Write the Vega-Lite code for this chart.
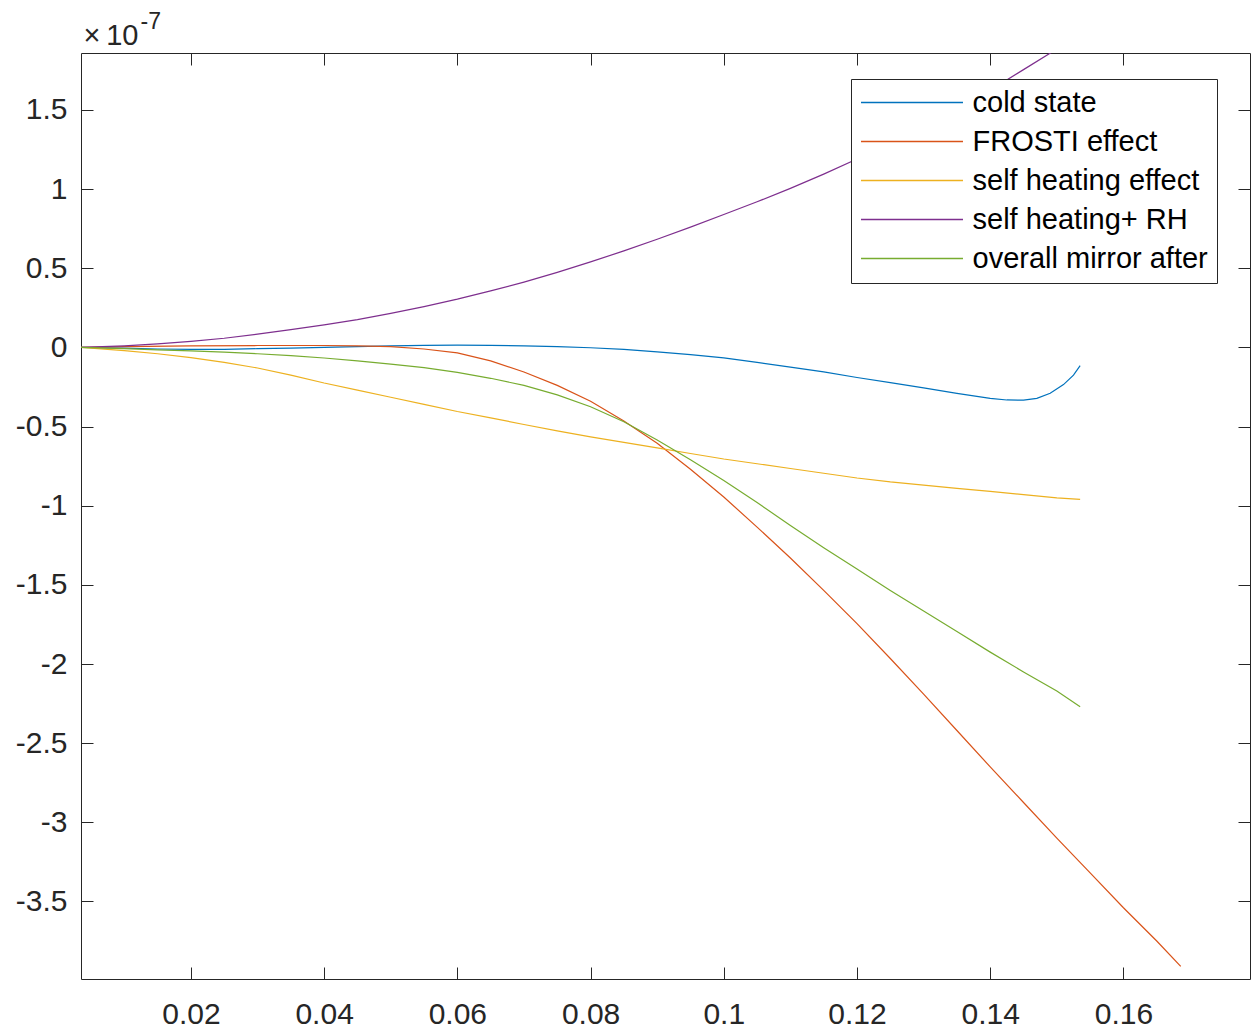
{
  "$schema": "https://vega.github.io/schema/vega-lite/v6.json",
  "autosize": "none",
  "width": 1169,
  "height": 926,
  "padding": {"left": 81, "top": 53, "right": 2, "bottom": 55},
  "background": "white",
  "config": {"view": {"stroke": null}, "font": "Liberation Sans"},
  "datasets": {
    "curves": [
      {"series": "cold state", "x": 0.0035, "y": 0},
      {"series": "cold state", "x": 0.01, "y": -0.005},
      {"series": "cold state", "x": 0.015, "y": -0.01},
      {"series": "cold state", "x": 0.02, "y": -0.012},
      {"series": "cold state", "x": 0.025, "y": -0.012},
      {"series": "cold state", "x": 0.03, "y": -0.008},
      {"series": "cold state", "x": 0.035, "y": -0.004},
      {"series": "cold state", "x": 0.04, "y": 0.0},
      {"series": "cold state", "x": 0.045, "y": 0.005},
      {"series": "cold state", "x": 0.05, "y": 0.01},
      {"series": "cold state", "x": 0.055, "y": 0.013},
      {"series": "cold state", "x": 0.06, "y": 0.014},
      {"series": "cold state", "x": 0.065, "y": 0.013},
      {"series": "cold state", "x": 0.07, "y": 0.01},
      {"series": "cold state", "x": 0.075, "y": 0.005},
      {"series": "cold state", "x": 0.08, "y": -0.002},
      {"series": "cold state", "x": 0.085, "y": -0.012},
      {"series": "cold state", "x": 0.09, "y": -0.028},
      {"series": "cold state", "x": 0.095, "y": -0.045},
      {"series": "cold state", "x": 0.1, "y": -0.066},
      {"series": "cold state", "x": 0.105, "y": -0.095},
      {"series": "cold state", "x": 0.11, "y": -0.125},
      {"series": "cold state", "x": 0.115, "y": -0.155},
      {"series": "cold state", "x": 0.12, "y": -0.19},
      {"series": "cold state", "x": 0.125, "y": -0.222},
      {"series": "cold state", "x": 0.13, "y": -0.255},
      {"series": "cold state", "x": 0.135, "y": -0.29},
      {"series": "cold state", "x": 0.14, "y": -0.322},
      {"series": "cold state", "x": 0.1425, "y": -0.332},
      {"series": "cold state", "x": 0.145, "y": -0.333},
      {"series": "cold state", "x": 0.147, "y": -0.322},
      {"series": "cold state", "x": 0.149, "y": -0.29},
      {"series": "cold state", "x": 0.151, "y": -0.235},
      {"series": "cold state", "x": 0.1525, "y": -0.175},
      {"series": "cold state", "x": 0.1535, "y": -0.115},

      {"series": "FROSTI effect", "x": 0.0035, "y": 0},
      {"series": "FROSTI effect", "x": 0.01, "y": 0.005},
      {"series": "FROSTI effect", "x": 0.02, "y": 0.01},
      {"series": "FROSTI effect", "x": 0.03, "y": 0.012},
      {"series": "FROSTI effect", "x": 0.04, "y": 0.012},
      {"series": "FROSTI effect", "x": 0.045, "y": 0.01},
      {"series": "FROSTI effect", "x": 0.05, "y": 0.005},
      {"series": "FROSTI effect", "x": 0.055, "y": -0.01},
      {"series": "FROSTI effect", "x": 0.06, "y": -0.035},
      {"series": "FROSTI effect", "x": 0.065, "y": -0.085},
      {"series": "FROSTI effect", "x": 0.07, "y": -0.155},
      {"series": "FROSTI effect", "x": 0.075, "y": -0.24},
      {"series": "FROSTI effect", "x": 0.08, "y": -0.34},
      {"series": "FROSTI effect", "x": 0.085, "y": -0.465},
      {"series": "FROSTI effect", "x": 0.09, "y": -0.605},
      {"series": "FROSTI effect", "x": 0.095, "y": -0.77},
      {"series": "FROSTI effect", "x": 0.1, "y": -0.945},
      {"series": "FROSTI effect", "x": 0.105, "y": -1.135},
      {"series": "FROSTI effect", "x": 0.11, "y": -1.33},
      {"series": "FROSTI effect", "x": 0.115, "y": -1.535},
      {"series": "FROSTI effect", "x": 0.12, "y": -1.745},
      {"series": "FROSTI effect", "x": 0.125, "y": -1.965},
      {"series": "FROSTI effect", "x": 0.13, "y": -2.19},
      {"series": "FROSTI effect", "x": 0.135, "y": -2.42},
      {"series": "FROSTI effect", "x": 0.14, "y": -2.65},
      {"series": "FROSTI effect", "x": 0.145, "y": -2.875},
      {"series": "FROSTI effect", "x": 0.15, "y": -3.1},
      {"series": "FROSTI effect", "x": 0.155, "y": -3.32},
      {"series": "FROSTI effect", "x": 0.16, "y": -3.54},
      {"series": "FROSTI effect", "x": 0.165, "y": -3.75},
      {"series": "FROSTI effect", "x": 0.1686, "y": -3.91},

      {"series": "self heating effect", "x": 0.0035, "y": 0},
      {"series": "self heating effect", "x": 0.01, "y": -0.02},
      {"series": "self heating effect", "x": 0.015, "y": -0.04},
      {"series": "self heating effect", "x": 0.02, "y": -0.065},
      {"series": "self heating effect", "x": 0.025, "y": -0.095},
      {"series": "self heating effect", "x": 0.03, "y": -0.13},
      {"series": "self heating effect", "x": 0.035, "y": -0.175},
      {"series": "self heating effect", "x": 0.04, "y": -0.225},
      {"series": "self heating effect", "x": 0.045, "y": -0.27},
      {"series": "self heating effect", "x": 0.05, "y": -0.315},
      {"series": "self heating effect", "x": 0.055, "y": -0.36},
      {"series": "self heating effect", "x": 0.06, "y": -0.405},
      {"series": "self heating effect", "x": 0.065, "y": -0.445},
      {"series": "self heating effect", "x": 0.07, "y": -0.487},
      {"series": "self heating effect", "x": 0.075, "y": -0.527},
      {"series": "self heating effect", "x": 0.08, "y": -0.565},
      {"series": "self heating effect", "x": 0.085, "y": -0.6},
      {"series": "self heating effect", "x": 0.09, "y": -0.635},
      {"series": "self heating effect", "x": 0.095, "y": -0.67},
      {"series": "self heating effect", "x": 0.1, "y": -0.705},
      {"series": "self heating effect", "x": 0.105, "y": -0.735},
      {"series": "self heating effect", "x": 0.11, "y": -0.765},
      {"series": "self heating effect", "x": 0.115, "y": -0.795},
      {"series": "self heating effect", "x": 0.12, "y": -0.825},
      {"series": "self heating effect", "x": 0.125, "y": -0.85},
      {"series": "self heating effect", "x": 0.13, "y": -0.87},
      {"series": "self heating effect", "x": 0.135, "y": -0.89},
      {"series": "self heating effect", "x": 0.14, "y": -0.91},
      {"series": "self heating effect", "x": 0.145, "y": -0.93},
      {"series": "self heating effect", "x": 0.15, "y": -0.95},
      {"series": "self heating effect", "x": 0.1535, "y": -0.96},

      {"series": "self heating+ RH", "x": 0.0035, "y": 0},
      {"series": "self heating+ RH", "x": 0.01, "y": 0.01},
      {"series": "self heating+ RH", "x": 0.015, "y": 0.022},
      {"series": "self heating+ RH", "x": 0.02, "y": 0.038},
      {"series": "self heating+ RH", "x": 0.025, "y": 0.058},
      {"series": "self heating+ RH", "x": 0.03, "y": 0.084},
      {"series": "self heating+ RH", "x": 0.035, "y": 0.112},
      {"series": "self heating+ RH", "x": 0.04, "y": 0.142},
      {"series": "self heating+ RH", "x": 0.045, "y": 0.176},
      {"series": "self heating+ RH", "x": 0.05, "y": 0.215},
      {"series": "self heating+ RH", "x": 0.055, "y": 0.258},
      {"series": "self heating+ RH", "x": 0.06, "y": 0.305},
      {"series": "self heating+ RH", "x": 0.065, "y": 0.357},
      {"series": "self heating+ RH", "x": 0.07, "y": 0.413},
      {"series": "self heating+ RH", "x": 0.075, "y": 0.474},
      {"series": "self heating+ RH", "x": 0.08, "y": 0.54},
      {"series": "self heating+ RH", "x": 0.085, "y": 0.61},
      {"series": "self heating+ RH", "x": 0.09, "y": 0.683},
      {"series": "self heating+ RH", "x": 0.095, "y": 0.76},
      {"series": "self heating+ RH", "x": 0.1, "y": 0.84},
      {"series": "self heating+ RH", "x": 0.105, "y": 0.92},
      {"series": "self heating+ RH", "x": 0.11, "y": 1.005},
      {"series": "self heating+ RH", "x": 0.115, "y": 1.095},
      {"series": "self heating+ RH", "x": 0.12, "y": 1.19},
      {"series": "self heating+ RH", "x": 0.125, "y": 1.29},
      {"series": "self heating+ RH", "x": 0.13, "y": 1.395},
      {"series": "self heating+ RH", "x": 0.135, "y": 1.505},
      {"series": "self heating+ RH", "x": 0.14, "y": 1.625},
      {"series": "self heating+ RH", "x": 0.145, "y": 1.755},
      {"series": "self heating+ RH", "x": 0.15, "y": 1.885},
      {"series": "self heating+ RH", "x": 0.1535, "y": 1.98},

      {"series": "overall mirror after", "x": 0.0035, "y": 0},
      {"series": "overall mirror after", "x": 0.01, "y": -0.008},
      {"series": "overall mirror after", "x": 0.015, "y": -0.015},
      {"series": "overall mirror after", "x": 0.02, "y": -0.022},
      {"series": "overall mirror after", "x": 0.025, "y": -0.03},
      {"series": "overall mirror after", "x": 0.03, "y": -0.04},
      {"series": "overall mirror after", "x": 0.035, "y": -0.052},
      {"series": "overall mirror after", "x": 0.04, "y": -0.067},
      {"series": "overall mirror after", "x": 0.045, "y": -0.085},
      {"series": "overall mirror after", "x": 0.05, "y": -0.105},
      {"series": "overall mirror after", "x": 0.055, "y": -0.128},
      {"series": "overall mirror after", "x": 0.06, "y": -0.158},
      {"series": "overall mirror after", "x": 0.065, "y": -0.195},
      {"series": "overall mirror after", "x": 0.07, "y": -0.24},
      {"series": "overall mirror after", "x": 0.075, "y": -0.3},
      {"series": "overall mirror after", "x": 0.08, "y": -0.375},
      {"series": "overall mirror after", "x": 0.085, "y": -0.47},
      {"series": "overall mirror after", "x": 0.09, "y": -0.585},
      {"series": "overall mirror after", "x": 0.095, "y": -0.71},
      {"series": "overall mirror after", "x": 0.1, "y": -0.84},
      {"series": "overall mirror after", "x": 0.105, "y": -0.98},
      {"series": "overall mirror after", "x": 0.11, "y": -1.125},
      {"series": "overall mirror after", "x": 0.115, "y": -1.265},
      {"series": "overall mirror after", "x": 0.12, "y": -1.4},
      {"series": "overall mirror after", "x": 0.125, "y": -1.535},
      {"series": "overall mirror after", "x": 0.13, "y": -1.665},
      {"series": "overall mirror after", "x": 0.135, "y": -1.795},
      {"series": "overall mirror after", "x": 0.14, "y": -1.925},
      {"series": "overall mirror after", "x": 0.145, "y": -2.05},
      {"series": "overall mirror after", "x": 0.15, "y": -2.17},
      {"series": "overall mirror after", "x": 0.1535, "y": -2.27}
    ]
  },
  "data": {"name": "curves"},
  "layer": [
    {
      "mark": {"type": "line", "clip": true, "strokeWidth": 1.2},
      "encoding": {
        "x": {
          "field": "x", "type": "quantitative",
          "scale": {"domain": [0.0035, 0.179], "nice": false, "zero": false},
          "axis": {"orient": "bottom", "title": null, "grid": false,
            "values": [0.02, 0.04, 0.06, 0.08, 0.1, 0.12, 0.14, 0.16],
            "labelExpr": "'' + datum.value",
            "tickSize": -12, "labelPadding": 32, "labelFontSize": 30, "labelFont": "Liberation Sans",
            "labelColor": "#262626", "tickColor": "#262626", "domainColor": "#262626", "labelFlush": false}
        },
        "y": {
          "field": "y", "type": "quantitative",
          "scale": {"domain": [-3.99, 1.86], "nice": false, "zero": false},
          "axis": {"orient": "left", "grid": false,
            "values": [-3.5, -3, -2.5, -2, -1.5, -1, -0.5, 0, 0.5, 1, 1.5],
            "labelExpr": "'' + datum.value",
            "tickSize": -12, "labelPadding": 26, "labelFontSize": 30, "labelFont": "Liberation Sans",
            "labelColor": "#262626", "tickColor": "#262626", "domainColor": "#262626", "labelFlush": false,
            "title": "-7", "titleAngle": 0, "titleX": 59, "titleY": -25, "titleAlign": "left", "titleBaseline": "alphabetic",
            "titleFontSize": 23, "titleFontWeight": "normal", "titleFont": "Liberation Sans", "titleColor": "#262626"}
        },
        "color": {
          "field": "series", "type": "nominal",
          "scale": {"domain": ["cold state", "FROSTI effect", "self heating effect", "self heating+ RH", "overall mirror after"],
                    "range": ["#0072BD", "#D95319", "#EDB120", "#7E2F8E", "#77AC30"]},
          "legend": {"title": null, "orient": "none", "legendX": 770, "legendY": 26,
            "symbolType": "M-4,0H4", "symbolSize": 650, "symbolStrokeWidth": 1.3, "symbolOffset": 37.5, "symbolOpacity": 1,
            "labelFontSize": 29, "labelFont": "Liberation Sans", "labelColor": "#000000", "labelOffset": 46,
            "labelExpr": "datum.label + '\u00a0\u00a0'",
            "padding": 9, "rowPadding": 9, "strokeColor": "#262626", "fillColor": "white", "cornerRadius": 0, "labelLimit": 400}
        }
      }
    },
    {
      "mark": {"type": "line", "opacity": 0},
      "encoding": {
        "x": {"field": "x", "type": "quantitative",
          "axis": {"orient": "top", "grid": false, "labels": false,
            "values": [0.02, 0.04, 0.06, 0.08, 0.1, 0.12, 0.14, 0.16],
            "tickSize": -12, "tickColor": "#262626", "domainColor": "#262626",
            "title": "×\u200910", "titleAngle": 0, "titleX": 2, "titleY": -9, "titleAlign": "left", "titleBaseline": "alphabetic",
            "titleFontSize": 29, "titleFontWeight": "normal", "titleFont": "Liberation Sans", "titleColor": "#262626"}},
        "y": {"field": "y", "type": "quantitative",
          "axis": {"orient": "right", "title": null, "grid": false, "labels": false,
            "values": [-3.5, -3, -2.5, -2, -1.5, -1, -0.5, 0, 0.5, 1, 1.5],
            "tickSize": -12, "tickColor": "#262626", "domainColor": "#262626"}},
        "detail": {"field": "series"}
      }
    }
  ],
  "resolve": {"axis": {"x": "independent", "y": "independent"}}
}
